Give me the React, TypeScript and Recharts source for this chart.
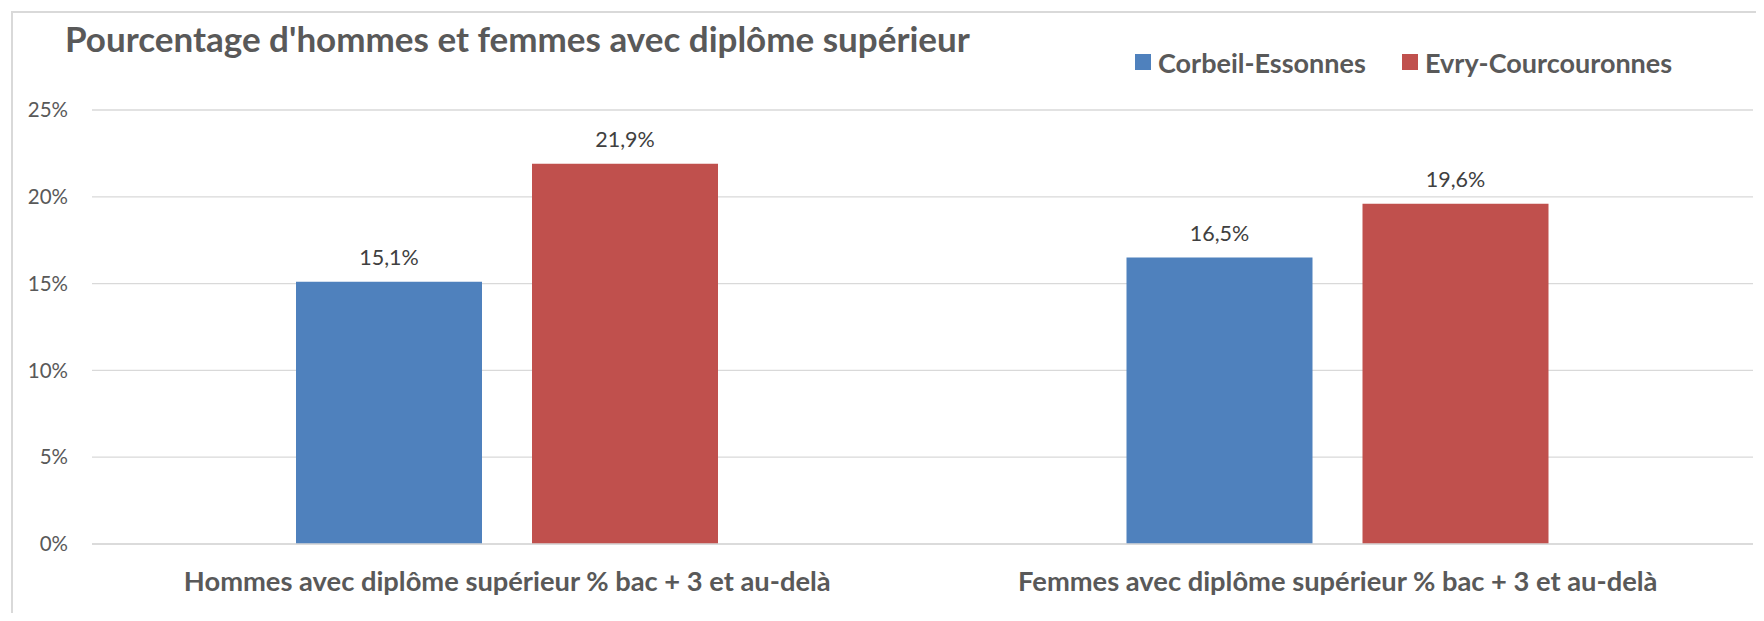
import { Bar, BarChart, CartesianGrid, LabelList, Legend, XAxis, YAxis } from 'recharts';

const categories = [
  'Hommes avec diplôme supérieur % bac + 3 et au-delà',
  'Femmes avec diplôme supérieur % bac + 3 et au-delà',
];
const corbeilValues = [15.1, 16.5];
const evryValues = [21.9, 19.6];
const yTicks = [0, 5, 10, 15, 20, 25];
const seriesNames = ['Corbeil-Essonnes', 'Evry-Courcouronnes'];
const title = "Pourcentage d'hommes et femmes avec diplôme supérieur";

const data = categories.map((name, i) => ({
  name,
  corbeil: corbeilValues[i],
  evry: evryValues[i],
}));

const FONT = 'Lato, Carlito, Calibri, sans-serif';
const legendLefts = [1135, 1402];

const fmtPct = (v: number) => `${v.toFixed(1).replace('.', ',')}%`;

function LegendContent(props: any) {
  const items = props.payload || [];
  return (
    <div style={{ position: 'relative', width: 640, height: 30 }}>
      {items.map((item: any, i: number) => (
        <div
          key={item.value}
          style={{
            position: 'absolute',
            left: legendLefts[i] - 1100,
            top: 0,
            display: 'flex',
            alignItems: 'center',
            height: 30,
            fontFamily: FONT,
            fontWeight: 700,
            fontSize: 27,
            color: '#595959',
            whiteSpace: 'nowrap',
          }}
        >
          <span style={{ width: 16, height: 16, background: item.color, marginRight: 7 }} />
          <span>{item.value}</span>
        </div>
      ))}
    </div>
  );
}

export default function App() {
  return (
    <div style={{ position: 'relative', width: 1764, height: 621, margin: -8, background: '#fff' }}>
      <div
        style={{
          position: 'absolute',
          left: 11,
          top: 11,
          width: 1760,
          height: 620,
          borderTop: '2px solid #D9D9D9',
          borderLeft: '2px solid #D9D9D9',
        }}
      />
      <div
        style={{
          position: 'absolute',
          left: 65,
          top: 20.5,
          fontFamily: FONT,
          fontWeight: 700,
          fontSize: 35,
          lineHeight: 1,
          color: '#595959',
          whiteSpace: 'nowrap',
        }}
      >
        {title}
      </div>
      <div style={{ position: 'absolute', left: 0, top: 0 }}>
        <BarChart
          width={1764}
          height={621}
          data={data}
          margin={{ top: 110, right: 11, bottom: 0, left: 0 }}
          barGap={50}
        >
          <CartesianGrid vertical={false} stroke="#D9D9D9" strokeWidth={1.3} />
          <XAxis
            dataKey="name"
            height={77}
            tickLine={false}
            tickSize={0}
            tickMargin={27.5}
            axisLine={{ stroke: '#D9D9D9', strokeWidth: 1.3 }}
            tick={{ fill: '#595959', fontSize: 27.3, fontWeight: 700, fontFamily: FONT }}
          />
          <YAxis
            width={92}
            domain={[0, 25]}
            ticks={yTicks}
            axisLine={false}
            tickLine={false}
            tickSize={0}
            tickMargin={24}
            tickFormatter={(v: number) => `${v}%`}
            tick={{ fill: '#595959', fontSize: 20.5, fontFamily: FONT }}
          />
          <Legend
            layout="horizontal"
            verticalAlign="middle"
            content={<LegendContent />}
            wrapperStyle={{ top: 47, left: 1100, width: 640 }}
          />
          <Bar dataKey="corbeil" name={seriesNames[0]} fill="#4F81BD" barSize={186} isAnimationActive={false}>
            <LabelList
              dataKey="corbeil"
              position="top"
              offset={17}
              formatter={(v: any) => fmtPct(Number(v))}
              style={{ fill: '#404040', fontSize: 21.5, fontFamily: FONT }}
            />
          </Bar>
          <Bar dataKey="evry" name={seriesNames[1]} fill="#C0504D" barSize={186} isAnimationActive={false}>
            <LabelList
              dataKey="evry"
              position="top"
              offset={17}
              formatter={(v: any) => fmtPct(Number(v))}
              style={{ fill: '#404040', fontSize: 21.5, fontFamily: FONT }}
            />
          </Bar>
        </BarChart>
      </div>
    </div>
  );
}
